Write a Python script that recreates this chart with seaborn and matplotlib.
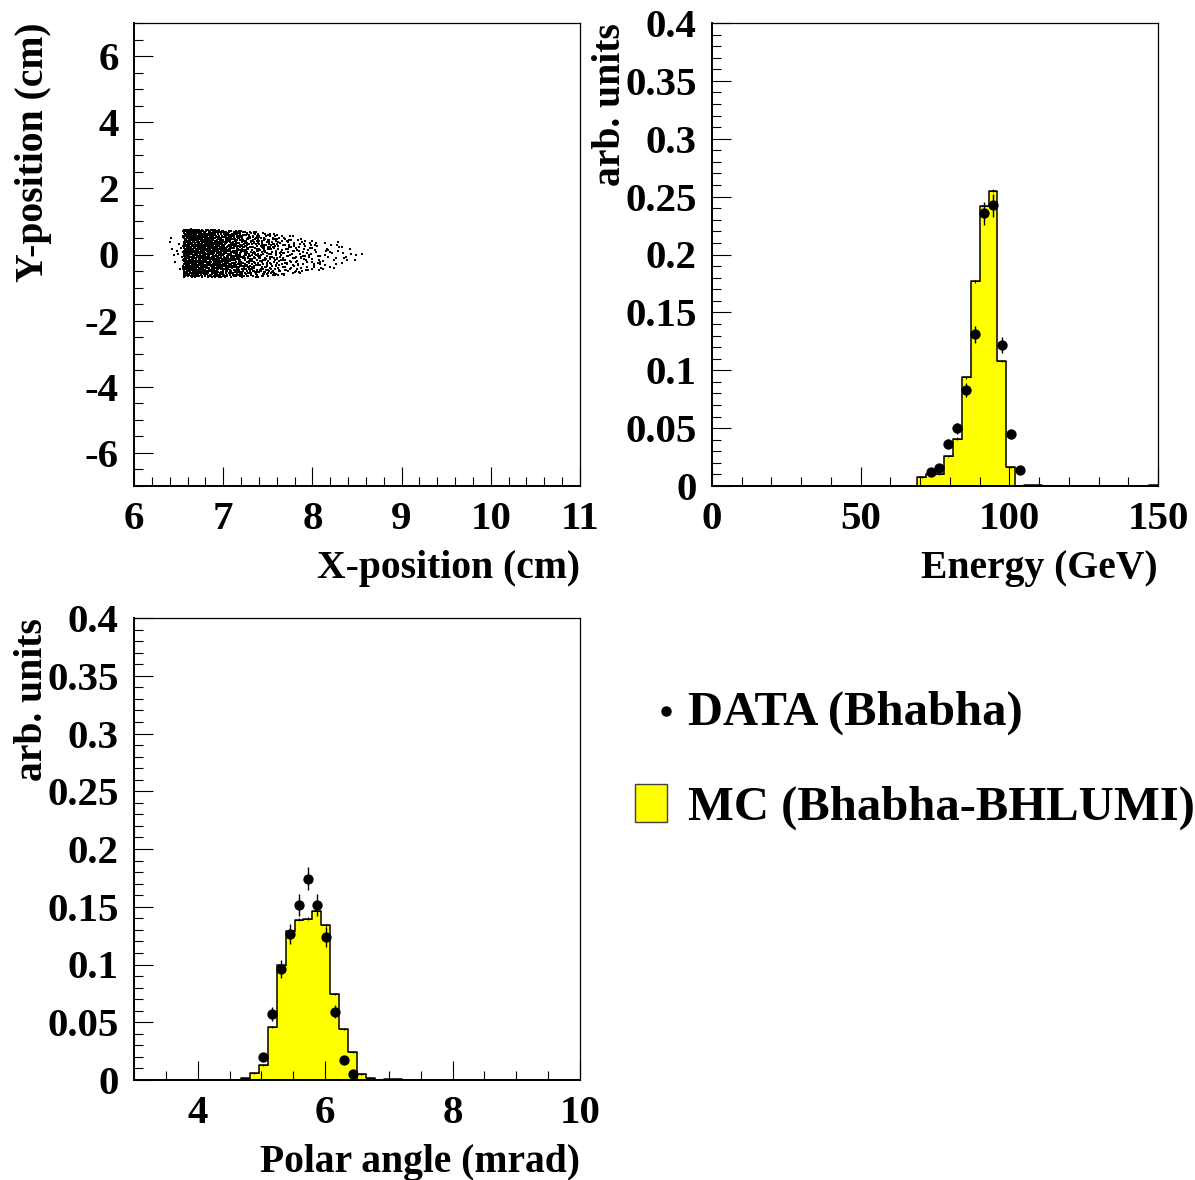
import numpy as np
import pandas as pd
import matplotlib
matplotlib.use("Agg")
import matplotlib.pyplot as plt
from matplotlib.ticker import MultipleLocator, FuncFormatter
from matplotlib.lines import Line2D
from matplotlib.patches import Rectangle
import seaborn as sns

# ---------------- impact points: X columns (cm) with counts and Y extent ----------------
xy_col_edges = [6.40, 6.55, 6.60, 6.70, 6.80, 6.90, 7.00, 7.10, 7.20, 7.30, 7.40, 7.50,
                7.60, 7.70, 7.80, 7.90, 8.00, 8.10, 8.20, 8.30, 8.40, 8.50, 8.65]
xy_col_counts = [12, 100, 200, 195, 185, 170, 150, 125, 100, 80, 66, 54,
                 43, 34, 27, 21, 16, 12, 9, 6, 4, 1]
xy_col_ylow = [-0.45, -0.68, -0.68, -0.68, -0.68, -0.68, -0.68, -0.68, -0.70, -0.68, -0.66,
               -0.64, -0.62, -0.60, -0.55, -0.52, -0.48, -0.45, -0.40, -0.30, -0.20, 0.00]
xy_col_yhigh = [0.55, 0.75, 0.76, 0.76, 0.76, 0.74, 0.72, 0.72, 0.70, 0.68, 0.66,
                0.64, 0.62, 0.58, 0.52, 0.48, 0.45, 0.42, 0.38, 0.30, 0.20, 0.06]

# ---------------- energy spectrum (3 GeV bins) ----------------
energy_mc_left = [69, 72, 75, 78, 81, 84, 87, 90, 93, 96, 99, 105, 108, 126, 147]
energy_mc_val = [0.0076, 0.010, 0.010, 0.026, 0.041, 0.094, 0.177, 0.242, 0.255,
                 0.108, 0.0166, 0.0012, 0.0006, 0.0004, 0.0006]
energy_mc_err = [0.0008, 0.0009, 0.0009, 0.001, 0.001, 0.0012, 0.0012, 0.0013, 0.0013,
                 0.0012, 0.001, 0.0004, 0.0003, 0.0002, 0.0003]
energy_data_x = [73.5, 76.5, 79.5, 82.5, 85.5, 88.5, 91.5, 94.5, 97.5, 100.5, 103.5]
energy_data_val = [0.0119, 0.0159, 0.0365, 0.0498, 0.0833, 0.131, 0.2358, 0.2425,
                   0.122, 0.0448, 0.0139]
energy_data_err = [0.0022, 0.0026, 0.0039, 0.0046, 0.006, 0.0074, 0.0099, 0.0100,
                   0.0071, 0.0043, 0.0024]

# ---------------- polar angle (0.14 mrad bins) ----------------
polar_mc_left = [4.68, 4.82, 4.96, 5.10, 5.24, 5.38, 5.52, 5.66, 5.80, 5.94, 6.08,
                 6.22, 6.36, 6.50, 6.64, 6.78, 6.92, 7.06]
polar_mc_val = [0.0015, 0.006, 0.013, 0.0457, 0.0998, 0.1287, 0.1388, 0.1397, 0.1466,
                0.1339, 0.0746, 0.0443, 0.024, 0.0052, 0.0018, 0.0004, 0.0008, 0.0006]
polar_mc_err = [0.0005, 0.0008, 0.001, 0.0011, 0.0012, 0.0012, 0.0012, 0.0012, 0.0012,
                0.0012, 0.0011, 0.001, 0.001, 0.0008, 0.0006, 0.0003, 0.0004, 0.0003]
polar_data_x = [5.03, 5.17, 5.31, 5.45, 5.59, 5.73, 5.87, 6.01, 6.15, 6.29, 6.43]
polar_data_val = [0.0202, 0.0573, 0.096, 0.1264, 0.1518, 0.1744, 0.1512, 0.1241,
                  0.0593, 0.0174, 0.0052]
polar_data_err = [0.0035, 0.006, 0.0078, 0.0087, 0.0095, 0.0098, 0.0095, 0.0087,
                  0.006, 0.0035, 0.002]

ENERGY_BINS = [3.0 * k for k in range(51)]
POLAR_BINS = [3.0 + 0.14 * k for k in range(51)]

# ---------------- style ----------------
sns.set_style("white")
plt.rcParams["font.family"] = ["Liberation Serif", "DejaVu Serif"]
plt.rcParams["font.weight"] = "bold"
plt.rcParams["axes.unicode_minus"] = False
for key in ["text.color", "axes.labelcolor", "xtick.color", "ytick.color",
            "axes.edgecolor"]:
    plt.rcParams[key] = "black"

W, H = 1195, 1180
TICK_FS = 29.5
TITLE_FS = 28.5
LEGEND_FS = 35


def fx(p):
    return p / W


def fy(p):
    return 1 - p / H


fig = plt.figure(figsize=(W / 100, H / 100), dpi=100)
fig.patch.set_facecolor("white")


def style_axes(ax, xmaj, xmin, ymaj, ymin, fmt):
    ax.set_axisbelow(False)
    ax.xaxis.set_major_locator(MultipleLocator(xmaj))
    ax.xaxis.set_minor_locator(MultipleLocator(xmin))
    ax.yaxis.set_major_locator(MultipleLocator(ymaj))
    ax.yaxis.set_minor_locator(MultipleLocator(ymin))
    ax.xaxis.set_major_formatter(FuncFormatter(lambda v, p: f"{v:g}"))
    ax.yaxis.set_major_formatter(FuncFormatter(fmt))
    ax.tick_params(which="both", direction="in", top=False, right=False,
                   left=True, bottom=True, color="black", labelcolor="black", width=0.8)
    ax.tick_params(which="major", length=13.7)
    ax.tick_params(which="minor", length=6.8)
    ax.tick_params(axis="x", which="major", pad=11, labelsize=TICK_FS)
    ax.tick_params(axis="y", which="major", pad=11, labelsize=TICK_FS)
    for lab in ax.get_xticklabels() + ax.get_yticklabels():
        lab.set_fontweight("bold")
    for side in ["left", "bottom"]:
        ax.spines[side].set_linewidth(1.4)
        ax.spines[side].set_color("black")
    for side in ["top", "right"]:
        ax.spines[side].set_linewidth(0.9)
        ax.spines[side].set_color("black")
    ax.set_xlabel("")
    ax.set_ylabel("")


def value_fmt(v, p):
    return f"{round(v, 3):g}"


def mc_hist(ax, centers, values, bins):
    frame = pd.DataFrame({"x": centers, "w": values})
    sns.histplot(data=frame, x="x", weights="w", bins=bins, element="step",
                 fill=True, color="#ffff00", alpha=1, edgecolor="black",
                 linewidth=1.1, ax=ax)


def halton(n, base, skip=20):
    """Radical-inverse (Halton) sequence in the given base."""
    i = np.arange(skip + 1, skip + n + 1)
    out = np.zeros(n)
    f = 1.0 / base
    while np.any(i > 0):
        out += f * (i % base)
        i //= base
        f /= base
    return out


# ---------------- panel 1: impact points ----------------
# Column densities are turned into points by thinning a Halton point set
# spread over the bounding box of the columns.
ax1 = fig.add_axes([fx(134), fy(486), fx(446), 463 / H])
edges = np.array(xy_col_edges)
counts = np.array(xy_col_counts, dtype=float)
ylo = np.array(xy_col_ylow)
yhi = np.array(xy_col_yhigh)
dens = counts / (np.diff(edges) * (yhi - ylo))
box_x0, box_x1 = edges[0], edges[-1]
box_y0, box_y1 = ylo.min(), yhi.max()
n_cand = int(np.ceil(dens.max() * (box_x1 - box_x0) * (box_y1 - box_y0)))
hx, hy, hz = halton(n_cand, 2), halton(n_cand, 3), halton(n_cand, 5)
cx = box_x0 + hx * (box_x1 - box_x0)
cy = box_y0 + hy * (box_y1 - box_y0)
col = np.clip(np.searchsorted(edges, cx, side="right") - 1, 0, len(counts) - 1)
keep = (cy >= ylo[col]) & (cy <= yhi[col]) & (hz < dens[col] / dens.max())
cloud = pd.DataFrame({"x": cx[keep], "y": cy[keep]})
sns.scatterplot(data=cloud, x="x", y="y", ax=ax1, color="black", marker="s",
                s=0.8, linewidth=0)
ax1.set_xlim(6, 11)
ax1.set_ylim(-7, 7)
style_axes(ax1, 1, 0.2, 2, 0.5, lambda v, p: f"{v:g}")

# ---------------- panel 2: energy ----------------
ax2 = fig.add_axes([fx(712), fy(486), fx(446), 463 / H])
e_centers = np.array(energy_mc_left) + 1.5
mc_hist(ax2, e_centers, energy_mc_val, ENERGY_BINS)
ax2.errorbar(e_centers, energy_mc_val, xerr=1.5, yerr=energy_mc_err, fmt="none",
             ecolor="black", elinewidth=0.7, capsize=0, zorder=3)
ax2.errorbar(energy_data_x, energy_data_val, yerr=energy_data_err, fmt="none",
             ecolor="black", elinewidth=1.0, capsize=0, zorder=4)
sns.scatterplot(x=energy_data_x, y=energy_data_val, ax=ax2, color="black", s=55,
                linewidth=0, zorder=5)
ax2.set_xlim(0, 150)
ax2.set_ylim(0, 0.4)
style_axes(ax2, 50, 10, 0.05, 0.01, value_fmt)

# ---------------- panel 3: polar angle ----------------
ax3 = fig.add_axes([fx(134), fy(1080), fx(446), 462 / H])
p_centers = np.array(polar_mc_left) + 0.07
mc_hist(ax3, p_centers, polar_mc_val, POLAR_BINS)
ax3.errorbar(p_centers, polar_mc_val, xerr=0.07, yerr=polar_mc_err, fmt="none",
             ecolor="black", elinewidth=0.7, capsize=0, zorder=3)
ax3.errorbar(polar_data_x, polar_data_val, yerr=polar_data_err, fmt="none",
             ecolor="black", elinewidth=1.0, capsize=0, zorder=4)
sns.scatterplot(x=polar_data_x, y=polar_data_val, ax=ax3, color="black", s=55,
                linewidth=0, zorder=5)
ax3.set_xlim(3, 10)
ax3.set_ylim(0, 0.4)
style_axes(ax3, 2, 0.5, 0.05, 0.01, value_fmt)

# ---------------- axis titles ----------------
tkw = dict(fontsize=TITLE_FS, fontweight="bold", color="black")
fig.text(fx(580), fy(578), "X-position (cm)", ha="right", va="baseline", **tkw)
fig.text(fx(1158), fy(578), "Energy (GeV)", ha="right", va="baseline", **tkw)
fig.text(fx(580), fy(1172), "Polar angle (mrad)", ha="right", va="baseline", **tkw)
fig.text(fx(43), fy(23), "Y-position (cm)", ha="right", va="baseline", rotation=90,
         rotation_mode="anchor", **tkw)
fig.text(fx(620), fy(23), "arb. units", ha="right", va="baseline", rotation=90,
         rotation_mode="anchor", **tkw)
fig.text(fx(42), fy(618), "arb. units", ha="right", va="baseline", rotation=90,
         rotation_mode="anchor", **tkw)

# ---------------- legend ----------------
fig.add_artist(Line2D([fx(666)], [fy(711)], marker="o", markersize=6.5,
                      color="black", linestyle="none", transform=fig.transFigure))
fig.text(fx(688), fy(725), "DATA (Bhabha)", ha="left", va="baseline",
         fontsize=LEGEND_FS, fontweight="bold", color="black")
fig.add_artist(Rectangle((fx(635), fy(822)), fx(32), 38 / H, facecolor="#ffff00",
                         edgecolor="#404040", linewidth=1.0, transform=fig.transFigure))
fig.text(fx(688), fy(820), "MC (Bhabha-BHLUMI)", ha="left", va="baseline",
         fontsize=LEGEND_FS, fontweight="bold", color="black")

fig.savefig("out.png", dpi=100, facecolor="white")
